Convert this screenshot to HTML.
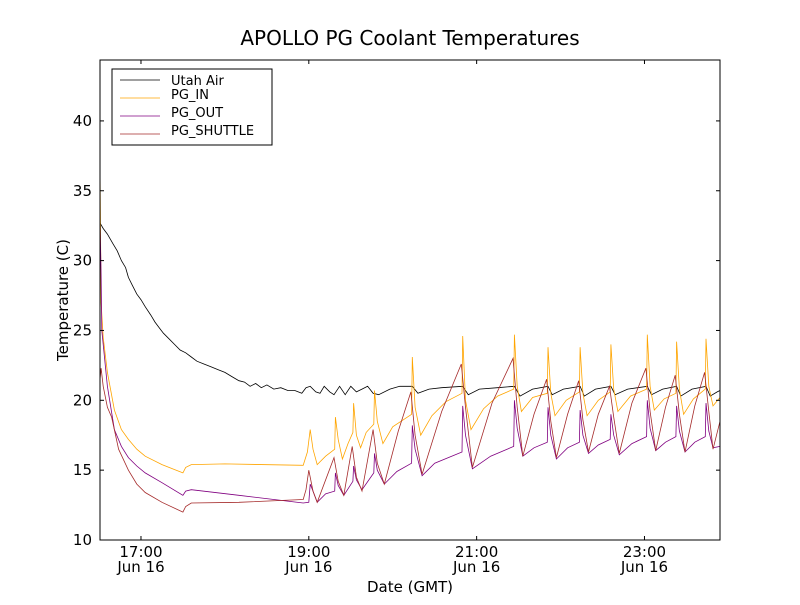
<!DOCTYPE html>
<html><head><meta charset="utf-8"><style>
body{margin:0;background:#fff}
svg text{font-family:"DejaVu Sans","Liberation Sans",sans-serif;fill:#000}
</style></head><body>
<svg id="chart" width="800" height="600" viewBox="0 0 800 600">
<rect x="0" y="0" width="800" height="600" fill="#fff"/>
<text x="410" y="45" font-size="20" text-anchor="middle">APOLLO PG Coolant Temperatures</text>
<rect x="100" y="60" width="620" height="480" fill="#fff" stroke="none"/>
<g id="series"></g>
<g id="axes"></g>
<rect x="100" y="60" width="620" height="480" fill="none" stroke="#000" stroke-width="1"/>
<text x="410" y="592" font-size="15" text-anchor="middle">Date (GMT)</text>
<text transform="translate(68,300) rotate(-90)" font-size="15" text-anchor="middle">Temperature (C)</text>
<g>
<rect x="112" y="69" width="160" height="76" fill="#fff" stroke="#000" stroke-width="1"/>
<line x1="120" y1="80" x2="160" y2="80" stroke="#000" stroke-width="0.8"/>
<text x="171" y="85" font-size="13">Utah Air</text>
<line x1="120" y1="98" x2="160" y2="98" stroke="#ffa500" stroke-width="0.8"/>
<text x="171" y="99" font-size="13">PG_IN</text>
<line x1="120" y1="116" x2="160" y2="116" stroke="#800080" stroke-width="0.8"/>
<text x="171" y="117" font-size="13">PG_OUT</text>
<line x1="120" y1="134" x2="160" y2="134" stroke="#a52a2a" stroke-width="0.8"/>
<text x="171" y="135" font-size="13">PG_SHUTTLE</text>
</g>
</svg>
<script>
// times in minutes since 16:00 GMT Jun 16
const airT=[30.7,33,36,40,43,46,49,51,54,57,60,63,67,70,73,76,80,84,88,92,96,100,105,110,115,120,125,130,134,138,142,146,150,155,160,165,170,175,178,181,185,188,191,195,198,202,206,210,214,218,222,226,230,238,245,254,258,266,275,290,294,302,315,327,331,340,351,354,362,374,377,385,396,399,408,422,425,433,443,446,454,464,467,472,474];
const airV=[32.7,32.3,31.9,31.2,30.7,30.0,29.5,28.8,28.2,27.6,27.2,26.7,26.1,25.6,25.2,24.8,24.4,24.0,23.6,23.4,23.1,22.8,22.6,22.4,22.2,22.0,21.7,21.4,21.3,21.0,21.2,20.9,21.1,20.8,20.9,20.7,20.7,20.5,20.9,21.0,20.6,20.5,21.0,20.6,20.4,21.0,20.4,21.0,20.6,20.8,21.0,20.5,20.4,20.8,21.0,21.0,20.5,20.8,20.9,21.0,20.4,20.8,20.9,21.0,20.3,20.8,21.0,20.4,20.8,21.0,20.3,20.8,21.0,20.4,20.8,21.0,20.4,20.8,21.0,20.3,20.8,21.0,20.3,20.6,20.7];
const inT=[30.7,31.5,33,36,41,46,51,57,63,75,90,92,96,120,176,179,181,183,186,192,198.5,199,201,204,208,211.5,212,214,217,221,226.5,227,229,233,240,253.5,254,256,260,268,278,289.5,290,292,296,305,315,326.5,327,329,332,340,350.5,351,353,356,364,373.5,374,376,379,387,395.5,396,398,401,410,421.5,422,424,427,434,442.5,443,445,448,455,463.5,464,466,469,474];
const inV=[36.8,27,24.5,22,19.3,17.9,17.2,16.5,16.0,15.4,14.8,15.2,15.4,15.45,15.35,16.3,17.9,16.5,15.4,16.0,16.5,18.8,17.2,15.8,16.9,17.7,19.8,17.5,16.6,17.7,18.3,20.7,18.5,16.9,18.1,19.0,23.1,19.5,17.5,18.9,19.9,20.5,24.6,20.0,17.9,19.4,20.3,20.8,24.7,21.0,19.2,20.2,20.5,23.8,20.5,18.9,20.0,20.6,23.8,20.5,18.9,20.0,20.6,24.0,20.8,19.2,20.3,20.8,24.7,21.0,19.3,20.1,20.5,24.2,20.8,19.0,20.1,20.8,24.4,21.0,19.6,20.2];
const outT=[30.7,31.5,32,36,41,46,51,57,63,75,90,92,96,130,176,180,181,183,186,192,198.5,199,201,205,211.5,212,214,218,226.5,227,229,234,243,253.5,254,256,261,270,289.5,290,292,297,310,326.5,327,329,333,341,350.5,351,353,357,365,373.5,374,376,380,387,395.5,396,398,402,411,421.5,422,424,428,435,442.5,443,445,449,456,463.5,464,466,469,474];
const outV=[33,29,25,21,17.9,16.7,15.9,15.3,14.8,14.1,13.2,13.5,13.6,13.2,12.65,12.7,14.0,13.5,12.7,13.3,13.5,14.8,13.9,13.2,14.2,15.3,14.3,13.6,14.8,16.2,15.0,14.0,14.9,15.5,18.2,16.5,14.6,15.5,16.3,19.6,17.5,15.1,16.0,16.7,20.0,18.0,16.0,16.6,17.0,19.5,17.5,15.8,16.6,17.0,19.3,17.5,16.2,16.8,17.2,19.0,17.5,16.1,16.9,17.4,20.0,18.0,16.4,17.0,17.4,19.6,17.8,16.3,17.0,17.4,19.8,17.8,16.6,16.7];
const shT=[30.7,31.5,33,36,39,44,51,57,63,75,90,92,96,130,176,178,180,183,186,198,201,205,211,214,218,226,229,234,244,253,256,261,275,289,292,297,311,326,329,333,341,350,353,357,365,373,376,380,387,395,398,402,411,421,424,428,435,442,445,449,456,463,466,469,474];
const shV=[21.5,22.3,21,19.5,18.8,16.5,15.0,14.0,13.4,12.7,12.0,12.4,12.65,12.7,12.9,13.6,15.0,13.5,12.7,15.9,14.2,13.2,16.7,14.5,13.5,17.9,15.5,14.0,17.8,20.6,17.5,14.7,19.2,22.6,19.5,15.2,19.8,23.0,19.5,16.0,19.0,21.5,18.5,15.9,19.0,21.4,18.6,16.3,19.0,21.0,18.8,16.2,19.8,22.3,19.2,16.4,19.5,21.8,19.0,16.3,19.6,22.0,19.2,16.5,18.5];
const yTicks=[10,15,20,25,30,35,40];
const xTicks=[60,180,300,420];
const xTickLabels=["17:00","19:00","21:00","23:00"];
const xDateLabel="Jun 16";

const X0=100,X1=720,Y0=540,Y1=60,TMIN=30.7,TMAX=474,VMIN=10,VMAX=44.36;
const sx=t=>X0+(t-TMIN)/(TMAX-TMIN)*(X1-X0);
const sy=v=>Y0-(v-VMIN)/(VMAX-VMIN)*(Y0-Y1);
const NS="http://www.w3.org/2000/svg";
const sg=document.getElementById('series'),ag=document.getElementById('axes');
function line(T,V,color,name){
  const p=document.createElementNS(NS,'polyline');
  p.setAttribute('points',T.map((t,i)=>sx(t).toFixed(1)+','+sy(V[i]).toFixed(1)).join(' '));
  p.setAttribute('fill','none');p.setAttribute('stroke',color);p.setAttribute('stroke-width','0.8');
  
  
  sg.appendChild(p);
}
line(airT,airV,'#000','series-utah-air');
line(inT,inV,'#ffa500','series-pg-in');
line(outT,outV,'#800080','series-pg-out');
line(shT,shV,'#a52a2a','series-pg-shuttle');
function mk(tag,attrs){const e=document.createElementNS(NS,tag);for(const k in attrs)e.setAttribute(k,attrs[k]);ag.appendChild(e);return e;}
yTicks.forEach(v=>{
  const y=sy(v);
  const a=mk('line',{x1:X0,x2:X0+4,y1:y,y2:y,stroke:'#000'});
  
  
  const b=mk('line',{x1:X1-4,x2:X1,y1:y,y2:y,stroke:'#000'});
  
  
  const t=mk('text',{x:X0-8,y:y+5,'font-size':15,'text-anchor':'end'});t.textContent=v;
  
  
});
xTicks.forEach((m,i)=>{
  const x=sx(m);
  const a=mk('line',{x1:x,x2:x,y1:Y0,y2:Y0-4,stroke:'#000'});
  
  
  const b=mk('line',{x1:x,x2:x,y1:Y1,y2:Y1+4,stroke:'#000'});
  
  
  const t=mk('text',{x:x,y:Y0+17,'font-size':15,'text-anchor':'middle'});t.textContent=xTickLabels[i];
  
  
  const d=mk('text',{x:x,y:Y0+32,'font-size':15,'text-anchor':'middle'});d.textContent=xDateLabel;
  
  
});
</script>
</body></html>
